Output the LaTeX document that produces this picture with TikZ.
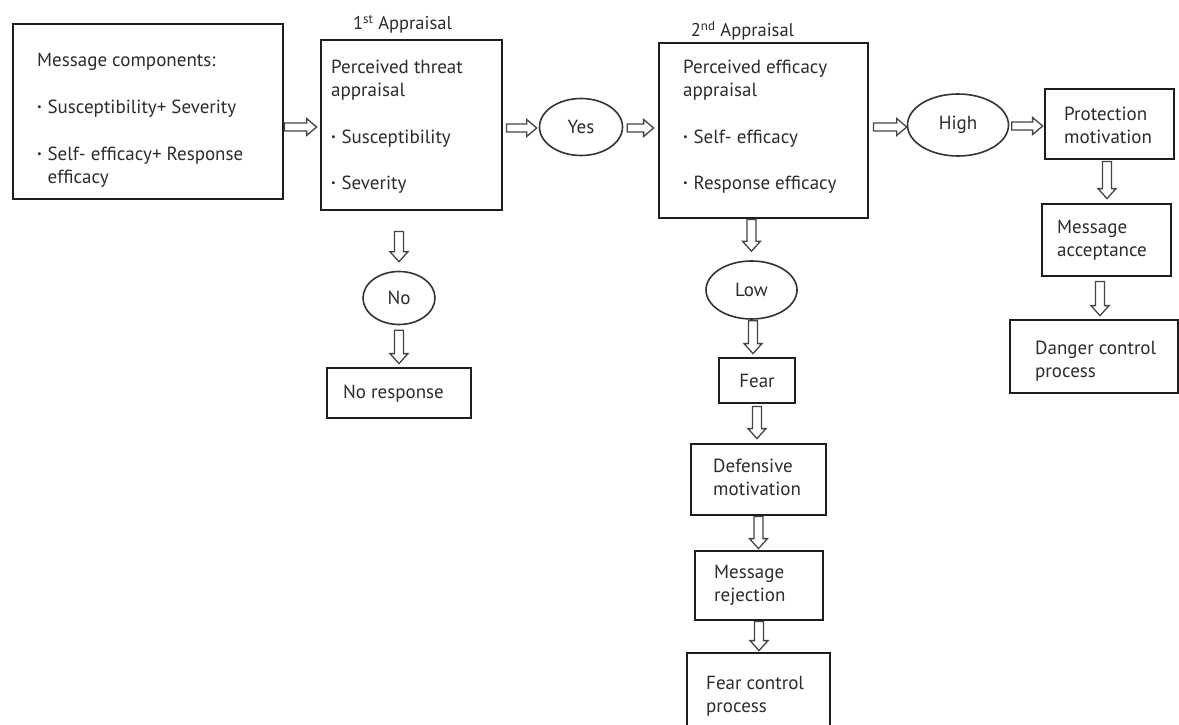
\documentclass[tikz,border=0pt]{standalone}
\usepackage{graphicx}
\usepackage{fontspec}
\setmainfont{PT Sans}
\usetikzlibrary{shapes.geometric,calc}
\definecolor{txtc}{HTML}{2C2C2C}
\definecolor{boxc}{HTML}{1E1E1E}
\definecolor{ellc}{HTML}{333333}
\definecolor{arrc}{HTML}{444444}
\newcommand\bul{\raisebox{0.16em}{\scalebox{0.55}{\textbullet}}\hspace{0.3em}}
\newcommand\arrowH[2]{\draw[arrowsty] let \p1=(#1), \p2=(#2) in
  (\x1,\y1+4pt) -- (\x2-10pt,\y1+4pt) -- (\x2-10pt,\y1+8.5pt) -- (\x2,\y1)
  -- (\x2-10pt,\y1-8.5pt) -- (\x2-10pt,\y1-4pt) -- (\x1,\y1-4pt) -- cycle;}
\newcommand\arrowV[2]{\draw[arrowsty] let \p1=(#1), \p2=(#2) in
  (\x1-4.5pt,\y1) -- (\x1-4.5pt,\y2+10pt) -- (\x1-9pt,\y2+10pt) -- (\x1,\y2)
  -- (\x1+9pt,\y2+10pt) -- (\x1+4.5pt,\y2+10pt) -- (\x1+4.5pt,\y1) -- cycle;}
\begin{document}
\begin{tikzpicture}[x=1pt,y=-1pt,
  every node/.style={text=txtc, font=\fontsize{19}{23}\selectfont},
  box/.style={draw=boxc, line width=2.8pt, rectangle, inner sep=0pt},
  btxt/.style={anchor=west, align=left, inner sep=0pt},
  oval/.style={draw=ellc, line width=1.6pt, ellipse, inner sep=0pt},
  arrowsty/.style={draw=arrc, line width=1.3pt, fill=white, line join=miter},
  lab/.style={font=\fontsize{18.5}{21}\selectfont, inner sep=0pt}]
\useasboundingbox (0,0) rectangle (1179,725);
\fill[white] (0,0) rectangle (1179,725);
\clip (0,0) rectangle (1179,725);

% boxes
\node[box, minimum width=270pt, minimum height=175pt] (msg) at (148,111.5) {};
\node[btxt] (msgT) at (37,120.5) {Message components:\\[24pt]
  \bul Susceptibility+ Severity\\[24pt]
  \bul Self- efficacy+ Response\\ \hspace*{0.55em}efficacy};

\node[box, minimum width=181pt, minimum height=170pt] (threat) at (411.5,125) {};
\node[btxt] (threatT) at (331,126.5) {Perceived threat\\ appraisal\\[24pt]
  \bul Susceptibility\\[23pt] \bul Severity};
\node[lab] (lab1) at (402.5,24) {1\textsuperscript{st} Appraisal};

\node[box, minimum width=209pt, minimum height=175pt] (eff) at (763.5,130.5) {};
\node[btxt] (effT) at (683,126.5) {Perceived efficacy\\ appraisal\\[24pt]
  \bul Self- efficacy\\[23pt] \bul Response efficacy};
\node[lab] (lab2) at (742.5,31) {2\textsuperscript{nd} Appraisal};

\node[box, minimum width=129pt, minimum height=70pt] (prot) at (1109.5,124) {};
\node[btxt] (protT) at (1064,125.5) {Protection\\ motivation};

\node[box, minimum width=129pt, minimum height=72pt] (macc) at (1106.5,240) {};
\node[btxt] (maccT) at (1057,240) {Message\\ acceptance};

\node[box, minimum width=168pt, minimum height=73pt] (danger) at (1094,356.5) {};
\node[btxt] (dangerT) at (1035,361.5) {Danger control\\ process};

\node[box, minimum width=144pt, minimum height=50pt] (noresp) at (399,393) {};
\node[btxt] (norespT) at (343,393.8) {No response};

\node[box, minimum width=76pt, minimum height=45pt] (fear) at (757,380.5) {Fear};

\node[box, minimum width=135pt, minimum height=71pt] (defm) at (758.5,479.5) {};
\node[btxt] (defmT) at (713,477) {Defensive\\ motivation};

\node[box, minimum width=128pt, minimum height=69pt] (mrej) at (759,585.5) {};
\node[btxt] (mrejT) at (714,585) {Message\\ rejection};

\node[box, minimum width=143pt, minimum height=87pt] (fctl) at (758.5,696.5) {};
\node[btxt] (fctlT) at (706,696.5) {Fear control\\ process};

% ellipses
\node[oval, minimum width=83pt, minimum height=57pt] (yes) at (581,127) {Yes};
\node[oval, minimum width=101pt, minimum height=62pt] (high) at (958,125) {High};
\node[oval, minimum width=72pt, minimum height=53pt] (no) at (399,298) {No};
\node[oval, minimum width=91pt, minimum height=58pt] (low) at (751.5,290) {Low};

% horizontal arrows
\arrowH{msg.east |- yes}{$(threat.west |- yes)+(-3,0)$}
\arrowH{$(threat.east |- yes)+(3,1)$}{$(yes.west)+(-2,1)$}
\arrowH{$(yes.east)+(4,1)$}{$(eff.west |- yes)+(-4,1)$}
\arrowH{$(eff.east |- high)+(4,2)$}{$(high.west)+(0,2)$}
\arrowH{$(high.east)+(2.5,1)$}{$(prot.west |- high)+(-1,1)$}

% vertical arrows
\arrowV{$(threat.south -| no)+(0,20)$}{$(no.north)+(0,-9)$}
\arrowV{$(no.south)+(0,5)$}{$(noresp.north)+(0,-3)$}
\arrowV{eff.south -| low}{$(low.north)+(0,-9)$}
\arrowV{$(low.south)+(1.5,1)$}{$(fear.north)+(0,-3)$}
\arrowV{$(fear.south)+(0,2)$}{$(defm.north)+(0,-4)$}
\arrowV{defm.south}{$(mrej.north)+(0,-1)$}
\arrowV{mrej.south}{$(fctl.north)+(0,-1)$}
\arrowV{$(prot.south)+(-2.5,1)$}{$(macc.north)+(0,-4)$}
\arrowV{$(macc.south)+(-6.5,4)$}{$(danger.north)+(0,-3)$}
\end{tikzpicture}
\end{document}
